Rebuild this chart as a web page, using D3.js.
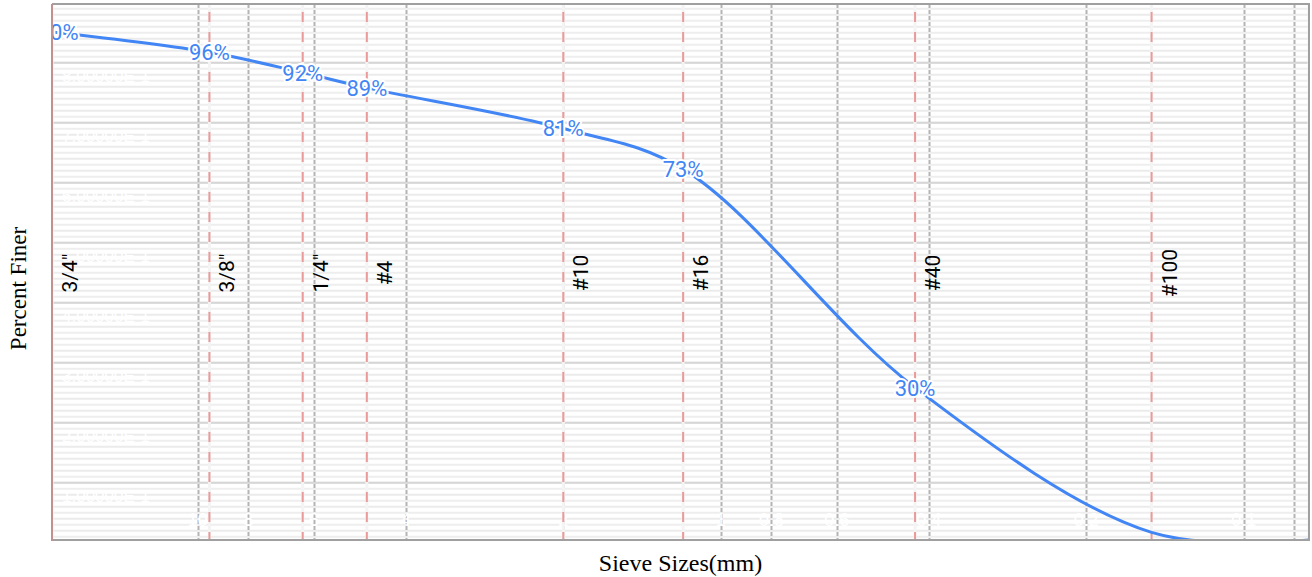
<!DOCTYPE html>
<html>
<head>
<meta charset="utf-8">
<script src="https://cdn.jsdelivr.net/npm/d3@7/dist/d3.min.js"></script>
<style>
  html, body { margin: 0; padding: 0; background: #fff; }
  svg { display: block; }
</style>
</head>
<body>
<svg id="chart" width="1312" height="577"></svg>
<script>
// ---- data ----
const sieveNames   = ['3/4"', '3/8"', '1/4"', '#4', '#10', '#16', '#40', '#100', '#200'];
const sieveSizesMm = [19, 9.5, 6.3, 4.75, 2, 1.18, 0.425, 0.15, 0.075];
const percentFiner = [100, 96, 92, 89, 81, 73, 30, 1.5, 0];
const annotations  = ['100%', '96%', '92%', '89%', '81%', '73%', '30%', null, null];

const xTickValues  = [10, 8, 6, 4, 2, 1, 0.8, 0.6, 0.4, 0.2, 0.1, 0.08];
const xTickLabels  = ['10', '8', '6', '4', '2', '1', '0.8', '0.6', '0.4', '0.2', '0.1', ''];
const yGridValues  = [0.1, 0.2, 0.3, 0.4, 0.5, 0.6, 0.7, 0.8];
const yTickLabels  = ['1.00000E-1', '2.00000E-1', '3.00000E-1', '4.00000E-1',
                      '5.00000E-1', '6.00000E-1', '7.00000E-1', '8.00000E-1'];
const yMinorValues = d3.range(0, 90).map(i => i / 100);

const xTitle = 'Sieve Sizes(mm)';
const yTitle = 'Percent Finer';

// ---- layout ----
const W = 1312, H = 577;
const plot = { left: 52, right: 1309, top: 4, bottom: 540 };

const svg = d3.select('#chart');

const x = d3.scaleLog().domain([19, 0.075]).range([plot.left, plot.right]);
const y = d3.scaleLinear().domain([0, 100]).range([plot.bottom, 32]);
const yGrid = d3.scaleLinear().domain([0, 0.9]).range([542.7, 2.7]);

svg.append('defs').append('clipPath').attr('id', 'plotClip')
  .append('rect')
  .attr('x', plot.left).attr('y', plot.top)
  .attr('width', plot.right - plot.left).attr('height', plot.bottom - plot.top);

const g = svg.append('g').attr('clip-path', 'url(#plotClip)');

// minor horizontal gridlines
g.append('g').selectAll('line').data(yMinorValues).join('line')
  .attr('x1', plot.left).attr('x2', plot.right)
  .attr('y1', d => yGrid(d)).attr('y2', d => yGrid(d))
  .attr('stroke', (d, i) => (i % 2 === 0 ? '#ebebeb' : '#eeeeee'))
  .attr('stroke-width', 2);

// major horizontal gridlines
g.append('g').selectAll('line').data(yGridValues).join('line')
  .attr('x1', plot.left).attr('x2', plot.right)
  .attr('y1', d => yGrid(d)).attr('y2', d => yGrid(d))
  .attr('stroke', '#d6d6d6')
  .attr('stroke-width', 2);

// vertical dashed gridlines (x ticks)
g.append('g').selectAll('line').data(xTickValues).join('line')
  .attr('x1', d => Math.round(x(d)) + 0.5).attr('x2', d => Math.round(x(d)) + 0.5)
  .attr('y1', plot.top).attr('y2', plot.bottom)
  .attr('stroke', '#b4b4b4')
  .attr('stroke-width', 2)
  .attr('stroke-dasharray', '4,2');

// white (inside) tick labels
g.append('g').selectAll('text').data(xTickValues).join('text')
  .attr('x', d => x(d)).attr('y', 526)
  .attr('text-anchor', 'middle')
  .attr('font-family', 'Arial, "Liberation Sans", sans-serif')
  .attr('font-size', 18)
  .attr('fill', '#ffffff')
  .text((d, i) => xTickLabels[i]);

g.append('g').selectAll('text').data(yGridValues).join('text')
  .attr('x', 62).attr('y', d => yGrid(d) + 19)
  .attr('font-family', 'Arial, "Liberation Sans", sans-serif')
  .attr('font-size', 17)
  .attr('fill', '#ffffff')
  .text((d, i) => yTickLabels[i]);

// sieve marker lines
const sieves = sieveSizesMm.map((s, i) => ({ size: s, name: sieveNames[i], pf: percentFiner[i], ann: annotations[i] }));

g.append('g').selectAll('line').data(sieves).join('line')
  .attr('x1', d => x(d.size)).attr('x2', d => x(d.size))
  .attr('y1', plot.top).attr('y2', plot.bottom)
  .attr('stroke', '#f4f4f4')
  .attr('stroke-width', 3);

g.append('g').selectAll('line').data(sieves).join('line')
  .attr('x1', d => x(d.size)).attr('x2', d => x(d.size))
  .attr('y1', plot.top + 8).attr('y2', plot.bottom)
  .attr('stroke', '#eb9a9a')
  .attr('stroke-width', 2)
  .attr('stroke-dasharray', '10,10');

// sieve names (rotated)
g.append('g').selectAll('text').data(sieves.filter(d => x(d.size) + 26 < plot.right)).join('text')
  .attr('transform', d => `translate(${x(d.size) + 25},273) rotate(-90)`)
  .attr('text-anchor', 'middle')
  .attr('font-family', 'Roboto, Arial, sans-serif')
  .attr('font-size', 21)
  .attr('fill', '#000000')
  .text(d => d.name);

// gradation curve
const line = d3.line()
  .x(d => x(d.size))
  .y(d => y(d.pf))
  .curve(d3.curveCatmullRom.alpha(0.5));

g.append('path')
  .datum(sieves)
  .attr('d', line)
  .attr('fill', 'none')
  .attr('stroke', '#4285f4')
  .attr('stroke-width', 3);

// point annotations
g.append('g').selectAll('text').data(sieves.filter(d => d.ann)).join('text')
  .attr('x', d => x(d.size)).attr('y', d => y(d.pf))
  .attr('dy', '0.36em')
  .attr('text-anchor', 'middle')
  .attr('font-family', 'Roboto, Arial, sans-serif')
  .attr('font-size', 22)
  .attr('fill', '#4285f4')
  .attr('stroke', '#ffffff')
  .attr('stroke-width', 4)
  .attr('paint-order', 'stroke')
  .attr('stroke-linejoin', 'round')
  .text(d => d.ann);

// frame
svg.append('line').attr('x1', plot.left).attr('x2', plot.right + 1)
  .attr('y1', plot.top).attr('y2', plot.top).attr('stroke', '#a0a0a0').attr('stroke-width', 2);
svg.append('line').attr('x1', plot.right).attr('x2', plot.right)
  .attr('y1', plot.top).attr('y2', plot.bottom).attr('stroke', '#a0a0a0').attr('stroke-width', 2);
svg.append('line').attr('x1', plot.left).attr('x2', plot.right + 1)
  .attr('y1', plot.bottom).attr('y2', plot.bottom).attr('stroke', '#a0a0a0').attr('stroke-width', 2);
svg.append('line').attr('x1', plot.left).attr('x2', plot.left)
  .attr('y1', plot.top).attr('y2', plot.bottom + 1).attr('stroke', '#c39090').attr('stroke-width', 2);

// axis titles
svg.append('text')
  .attr('x', (plot.left + plot.right) / 2).attr('y', 571)
  .attr('text-anchor', 'middle')
  .attr('font-family', '"Liberation Serif", "Times New Roman", serif')
  .attr('font-size', 24)
  .attr('fill', '#000')
  .text(xTitle);

svg.append('text')
  .attr('transform', `translate(26,${H / 2}) rotate(-90)`)
  .attr('text-anchor', 'middle')
  .attr('font-family', '"Liberation Serif", "Times New Roman", serif')
  .attr('font-size', 23)
  .attr('fill', '#000')
  .text(yTitle);
</script>
</body>
</html>
